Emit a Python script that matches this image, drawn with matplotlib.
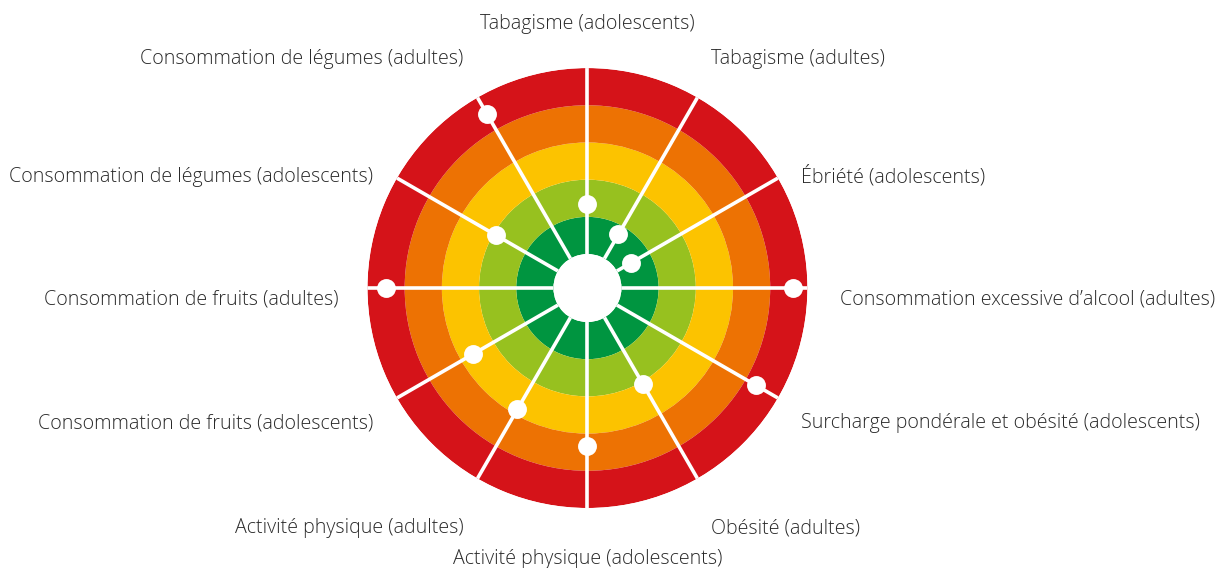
import numpy as np
import matplotlib
matplotlib.use("Agg")
import matplotlib.pyplot as plt

# categories clockwise from the top
categories = [
    "Tabagisme (adolescents)",
    "Tabagisme (adultes)",
    "Ébriété (adolescents)",
    "Consommation excessive d\u2019alcool (adultes)",
    "Surcharge pondérale et obésité (adolescents)",
    "Obésité (adultes)",
    "Activité physique (adolescents)",
    "Activité physique (adultes)",
    "Consommation de fruits (adolescents)",
    "Consommation de fruits (adultes)",
    "Consommation de légumes (adolescents)",
    "Consommation de légumes (adultes)",
]
# position of each indicator on the 0-5 scale (0 = best, 5 = worst)
values = [1.34, 0.75, 0.45, 4.60, 4.32, 2.05, 3.34, 2.85, 2.64, 4.51, 1.94, 4.50]

band_edges = [0, 1, 2, 3, 4, 5]
band_colors = ["#009540", "#97C11F", "#FCC300", "#ED7203", "#D51319"]

# label placement: offset in pixels from centre, alignment
label_pos = [
    (0, 259, "center"),
    (124, 224, "left"),
    (214, 106, "left"),
    (253, -16, "left"),
    (214, -140, "left"),
    (124, -245, "left"),
    (0, -276, "center"),
    (-124, -245, "right"),
    (-214, -140, "right"),
    (-249, -16, "right"),
    (-214, 106, "right"),
    (-124, 224, "right"),
]

plt.rcParams["font.family"] = ["Open Sans", "DejaVu Sans"]

fig = plt.figure(figsize=(12.18, 5.68), dpi=100)
ax = fig.add_axes([0.3017, 0.1056, 0.3612, 0.7746], projection="polar")
ax.set_theta_zero_location("N")
ax.set_theta_direction(-1)

n = len(categories)
theta = np.arange(n) * 2 * np.pi / n

for lo, hi, c in zip(band_edges[:-1], band_edges[1:], band_colors):
    ax.bar(0, hi - lo, width=2 * np.pi, bottom=lo, color=c, linewidth=0, zorder=1)

ax.vlines(theta, band_edges[0], band_edges[-1], color="white", lw=2.6, zorder=2)
ax.scatter(theta, values, s=185, color="white", linewidths=0, zorder=3, clip_on=False)

ax.set_ylim(band_edges[0], band_edges[-1])
ax.set_rorigin(-0.914)
ax.axis("off")

for name, (dx, dy, ha) in zip(categories, label_pos):
    ax.annotate(name, xy=(0.5, 0.5), xycoords="axes fraction",
                xytext=(dx, dy), textcoords="offset pixels",
                ha=ha, va="baseline", fontsize=14.1, fontweight="light",
                color="#2a2a2a", annotation_clip=False)

fig.savefig("out.png", dpi=100, facecolor="white")
